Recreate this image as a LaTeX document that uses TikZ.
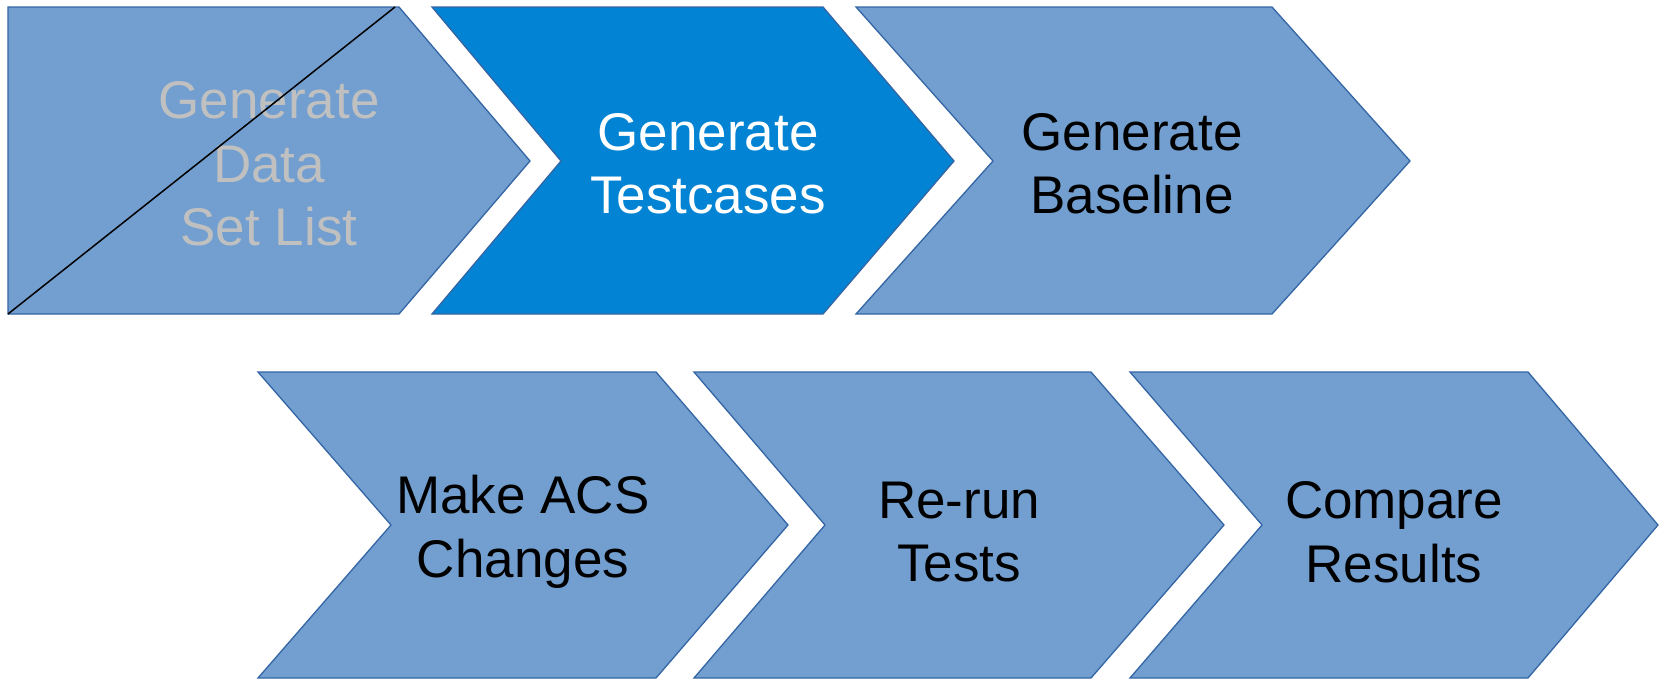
\documentclass[tikz,border=0pt]{standalone}
\usepackage{fontspec}
\setmainfont{Liberation Sans}
\definecolor{chev}{HTML}{729FCF}
\definecolor{chevdark}{HTML}{0283D3}
\definecolor{chevline}{HTML}{3465A4}
\definecolor{fadetext}{HTML}{C0C0C0}
\begin{document}
\begin{tikzpicture}[x=1pt,y=-1pt,
  chevbox/.style={fill=chev,draw=chevline,line width=1.3pt,line join=miter},
  lbl/.style={align=center,font=\fontsize{53}{63.5}\selectfont,inner sep=0pt}]
\useasboundingbox (0,0) rectangle (1659,680);
% row 1
\path[chevbox] (8,7) -- (399,7) -- (530,161) -- (399,314) -- (8,314) -- cycle;
\path[chevbox,fill=chevdark] (432,7) -- (823,7) -- (954,161) -- (823,314) -- (432,314) -- (561,161) -- cycle;
\path[chevbox] (856,7) -- (1272,7) -- (1410,161) -- (1272,314) -- (856,314) -- (993,161) -- cycle;
% row 2
\path[chevbox] (258,372) -- (656,372) -- (788,525) -- (656,678) -- (258,678) -- (391,525) -- cycle;
\path[chevbox] (694,372) -- (1091,372) -- (1224,525) -- (1091,678) -- (694,678) -- (825,525) -- cycle;
\path[chevbox] (1130,372) -- (1528,372) -- (1658,525) -- (1528,678) -- (1130,678) -- (1262,525) -- cycle;
% labels
\node[lbl,text=fadetext] (t1) at (269,164) {Generate\\Data\\Set List};
\node[lbl,text=white] (t2) at (708,164) {Generate\\Testcases};
\node[lbl] (t3) at (1132,164) {Generate\\Baseline};
\node[lbl] (t4) at (523,532) {Make ACS\\Changes};
\node[lbl] (t5) at (959,532) {Re-run\\Tests};
\node[lbl] (t6) at (1394,532) {Compare\\Results};
% strike line
\coordinate (s1) at (8,314);
\coordinate (s2) at (395,7);
\draw[black,line width=1.5pt] (s1) -- (s2);
\end{tikzpicture}
\end{document}
